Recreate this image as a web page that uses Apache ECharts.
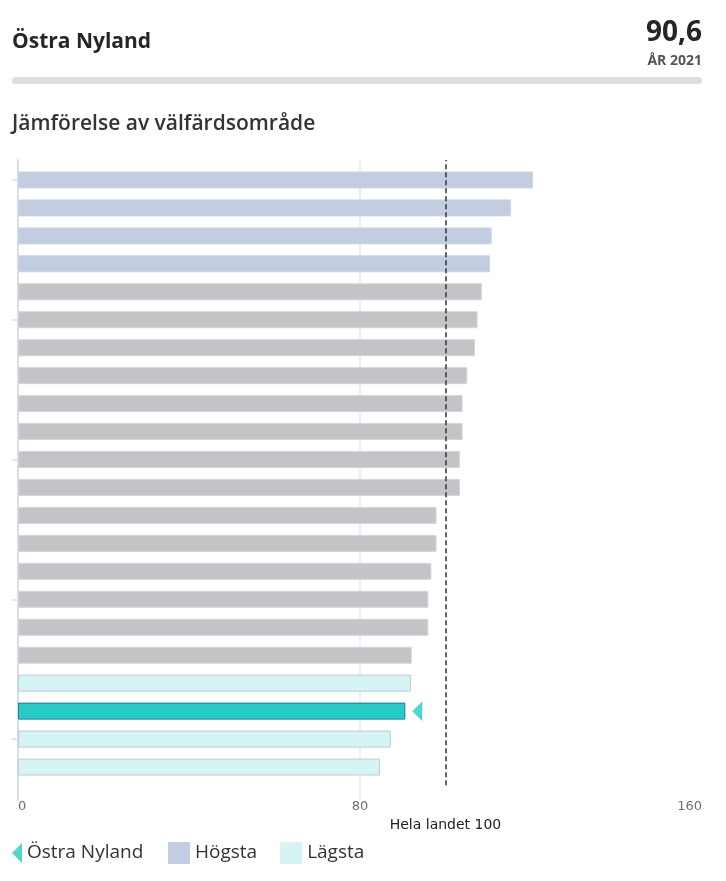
<!DOCTYPE html>
<html>
<head>
<meta charset="utf-8">
<script src="https://cdn.jsdelivr.net/npm/echarts@6/dist/echarts.min.js"></script>
<style>
  html, body { margin: 0; padding: 0; background: #fff; }
  #chart { width: 726px; height: 881px; }
</style>
</head>
<body>
<div id="chart"></div>
<script>
// värden per välfärdsområde, sorterade uppifrån och ned
var ranks = ['1','2','3','4','5','6','7','8','9','10','11',
             '12','13','14','15','16','17','18','19','20','21','22'];
var values = [120.5, 115.3, 110.8, 110.4, 108.5, 107.5, 106.9, 105.1, 104.0, 104.0, 103.4,
              103.4, 97.9, 97.9, 96.7, 96.0, 96.0, 92.1, 91.9, 90.6, 87.2, 84.7];
// grupp: h = Högsta, m = övriga, o = Östra Nyland, l = Lägsta
var groups = ['h','h','h','h','m','m','m','m','m','m','m',
              'm','m','m','m','m','m','m','l','o','l','l'];
var xTicks = [0, 80, 160];
var yTicks = [0, 5, 10, 15, 20];
var nationalLevel = 100;
var headline = '90,6';
var year = 'ÅR 2021';

// en lista per grupp, null där stapeln hör till en annan grupp
function pick(g) {
  return values.map(function (v, i) { return groups[i] == g ? v : null; });
}
function ownPoint() {
  var i = groups.indexOf('o');
  return [[values[i], i]];
}

var chart = echarts.init(document.getElementById('chart'));
var fontUI = '"Open Sans", "Noto Sans", sans-serif';
var barStyle = { type: 'bar', xAxisIndex: 1, yAxisIndex: 1, barWidth: 17, barGap: '-100%' };

var option = {
  animation: false,
  title: [
    { text: 'Östra Nyland', left: 7, top: 27,
      textStyle: { fontFamily: fontUI, fontSize: 21, fontWeight: 'bold', color: '#262626' } },
    { text: headline, right: 19, top: 14,
      textStyle: { fontFamily: fontUI, fontSize: 28, fontWeight: 'bold', color: '#262626' } },
    { text: year, right: 19, top: 49,
      textStyle: { fontFamily: fontUI, fontSize: 14, fontWeight: 'bold', color: '#555' } },
    { text: 'Jämförelse av välfärdsområde', left: 7, top: 109,
      textStyle: { fontFamily: fontUI, fontSize: 21, fontWeight: 600, color: '#333' } }
  ],
  graphic: [
    { type: 'rect', shape: { x: 12, y: 77, width: 690, height: 7, r: 3.5 },
      style: { fill: '#dcdfe2' } }
  ],
  legend: [
    { data: ['Östra Nyland'], left: 12, top: 843, padding: 0, itemWidth: 10, itemHeight: 20,
      textStyle: { fontFamily: fontUI, fontSize: 19, color: '#333' } },
    { data: [{ name: 'Högsta', icon: 'rect', itemStyle: { borderWidth: 0 } },
             { name: 'Lägsta', icon: 'rect', itemStyle: { borderWidth: 0 } }],
      left: 168, top: 842, padding: 0, itemWidth: 22, itemHeight: 22, itemGap: 23,
      textStyle: { fontFamily: fontUI, fontSize: 19, color: '#333' } }
  ],
  grid: [
    { left: 18, right: 24, top: 160, bottom: 81 },
    { left: 18, right: 24, top: 166, bottom: 100 }
  ],
  xAxis: [
    { type: 'value', gridIndex: 0, min: 0, max: 160, interval: 80,
      axisLine: { show: false }, axisTick: { show: false },
      axisLabel: { margin: 0, color: '#6e6e6e', fontSize: 13, fontFamily: 'DejaVu Sans',
                   alignMinLabel: 'left', alignMaxLabel: 'right' },
      splitLine: { show: true, showMinLine: false, showMaxLine: false,
                   lineStyle: { color: '#e8eaf0', width: 1.5 } } },
    { type: 'value', gridIndex: 1, min: 0, max: 160, show: false }
  ],
  yAxis: [
    { type: 'value', gridIndex: 0, inverse: true, min: -0.72, max: 22.18,
      axisLine: { show: true, lineStyle: { color: '#d8ddee', width: 2 } },
      axisTick: { show: true, length: 6, customValues: yTicks, lineStyle: { color: '#d8ddee', width: 1.5 } },
      axisLabel: { show: false },
      splitLine: { show: false } },
    { type: 'category', gridIndex: 1, inverse: true, data: ranks, show: false }
  ],
  series: [
    Object.assign({ name: 'Högsta', data: pick('h'),
      itemStyle: { color: '#c2cde2', borderColor: '#d0d5dd', borderWidth: 1 } }, barStyle),
    Object.assign({ name: 'Övriga', data: pick('m'),
      itemStyle: { color: '#c3c3c8', borderColor: '#d6d6d9', borderWidth: 1 } }, barStyle),
    Object.assign({ name: 'Lägsta', data: pick('l'),
      itemStyle: { color: '#d5f4f4', borderColor: '#c5c9cc', borderWidth: 1 } }, barStyle),
    Object.assign({ name: 'Östra Nyland stapel', data: pick('o'),
      itemStyle: { color: '#27cbc6', borderColor: '#2378a5', borderWidth: 1 } }, barStyle),
    { name: 'Östra Nyland', type: 'scatter', xAxisIndex: 0, yAxisIndex: 0, data: ownPoint(),
      symbol: 'path://M10,0L10,20L0,10Z', symbolSize: [10, 20], symbolOffset: [12, 0],
      itemStyle: { color: '#27cbc6' },
      markLine: {
        silent: true, symbol: 'none',
        lineStyle: { color: '#333', type: [5, 3], width: 1.5 },
        label: { show: true, position: 'start', distance: 33, formatter: 'Hela landet ' + nationalLevel,
                 color: '#222', fontSize: 14, fontFamily: 'DejaVu Sans' },
        data: [[{ coord: [nationalLevel, 21.65] }, { coord: [nationalLevel, -0.72] }]]
      } }
  ]
};
chart.setOption(option);
</script>
</body>
</html>
